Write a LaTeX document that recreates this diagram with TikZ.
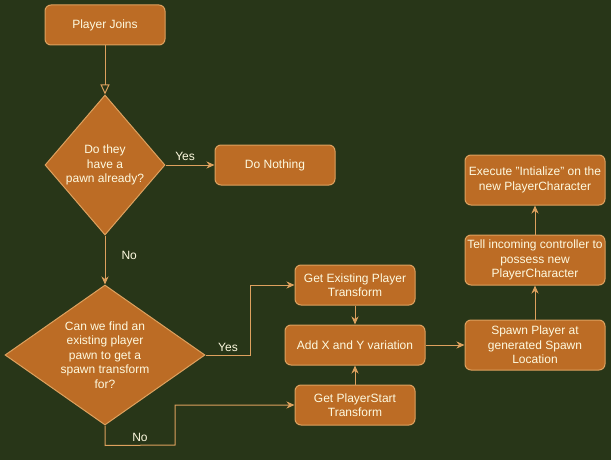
\documentclass[tikz,border=0pt]{standalone}
\usepackage{fontspec}
\setmainfont{Liberation Sans}
\usepackage{xcolor}
\definecolor{bgGreen}{RGB}{40,54,24}
\definecolor{boxFill}{RGB}{188,108,37}
\definecolor{boxLine}{RGB}{221,161,94}
\definecolor{boxText}{RGB}{254,250,224}
\usepackage{tikz}
\usetikzlibrary{arrows.meta,shapes.geometric,positioning,calc}
\tikzstyle{procbox}=[draw=boxLine, fill=boxFill, rounded corners=6pt, line width=1pt, minimum height=40pt, text=boxText, align=center, inner sep=1pt, font=\fontsize{12}{14.5}\selectfont]
\tikzstyle{decision}=[diamond, draw=boxLine, fill=boxFill, line width=1pt, inner sep=0pt, text=boxText, align=center, font=\fontsize{12}{14.5}\selectfont]
\tikzstyle{flowarrow}=[-{Stealth[length=8pt,width=7pt,inset=2.5pt]}, draw=boxLine, line width=1pt]
\tikzstyle{openarrow}=[-{Triangle[open,length=10pt,width=9pt]}, draw=boxLine, line width=1pt]
\tikzstyle{edgelabel}=[text=boxText, inner sep=2pt, font=\fontsize{12}{14.5}\selectfont]

\begin{document}
\begin{tikzpicture}[x=1pt, y=-1pt]
    % Fundo
    \fill[bgGreen] (0,0) rectangle (611,460);
    \useasboundingbox (0,0) rectangle (611,460);

    % Coluna da esquerda
    \node[procbox, minimum width=120pt] (join) at (105,25) {Player Joins};
    \node[decision, minimum width=120pt, minimum height=140pt, aspect=0.857] (hasPawn) at (105,165) {Do they\\have a\\pawn already?};
    \node[procbox, minimum width=120pt] (nothing) at (275,165) {Do Nothing};
    \node[decision, minimum width=200pt, minimum height=140pt, aspect=1.43] (findPawn) at (105,355)
          {Can we find an\\existing player\\pawn to get a\\spawn transform\\for?};

    % Coluna do meio
    \node[procbox, minimum width=120pt] (getExisting) at (355,285) {Get Existing Player\\Transform};
    \node[procbox, minimum width=140pt] (addXY) at (355,345) {Add X and Y variation};
    \node[procbox, minimum width=120pt] (getStart) at (355,405) {Get PlayerStart\\Transform};

    % Coluna da direita
    \node[procbox, minimum width=140pt, minimum height=50pt] (spawn) at (535,345) {Spawn Player at\\generated Spawn\\Location};
    \node[procbox, minimum width=140pt, minimum height=50pt] (possess) at (535,260) {Tell incoming controller to\\possess new\\PlayerCharacter};
    \node[procbox, minimum width=140pt, minimum height=50pt] (initialize) at (535,180) {Execute "Intialize" on the\\new PlayerCharacter};

    \coordinate (noBend) at (175,445);

    % Setas
    \draw[openarrow] (join) -- (hasPawn);
    \draw[flowarrow] (hasPawn.east) -- (nothing) node[edgelabel, pos=0.4, above=2pt] {Yes};
    \draw[flowarrow] (hasPawn.south) -- (findPawn.north)
          node[edgelabel, pos=0.4, right=14pt] {No};
    \draw[flowarrow] (findPawn.east) -- ++(45,0) node[edgelabel, midway, above=1pt] {Yes} |- (getExisting);
    \draw[flowarrow] (findPawn.south) -- ++(0,20) -- (noBend) node[edgelabel, midway, above=1pt] {No} |- (getStart);
    \draw[flowarrow] (getExisting) -- (addXY);
    \draw[flowarrow] (getStart) -- (addXY);
    \draw[flowarrow] (addXY) -- (spawn);
    \draw[flowarrow] (spawn) -- (possess);
    \draw[flowarrow] (possess) -- (initialize);
\end{tikzpicture}
\end{document}
